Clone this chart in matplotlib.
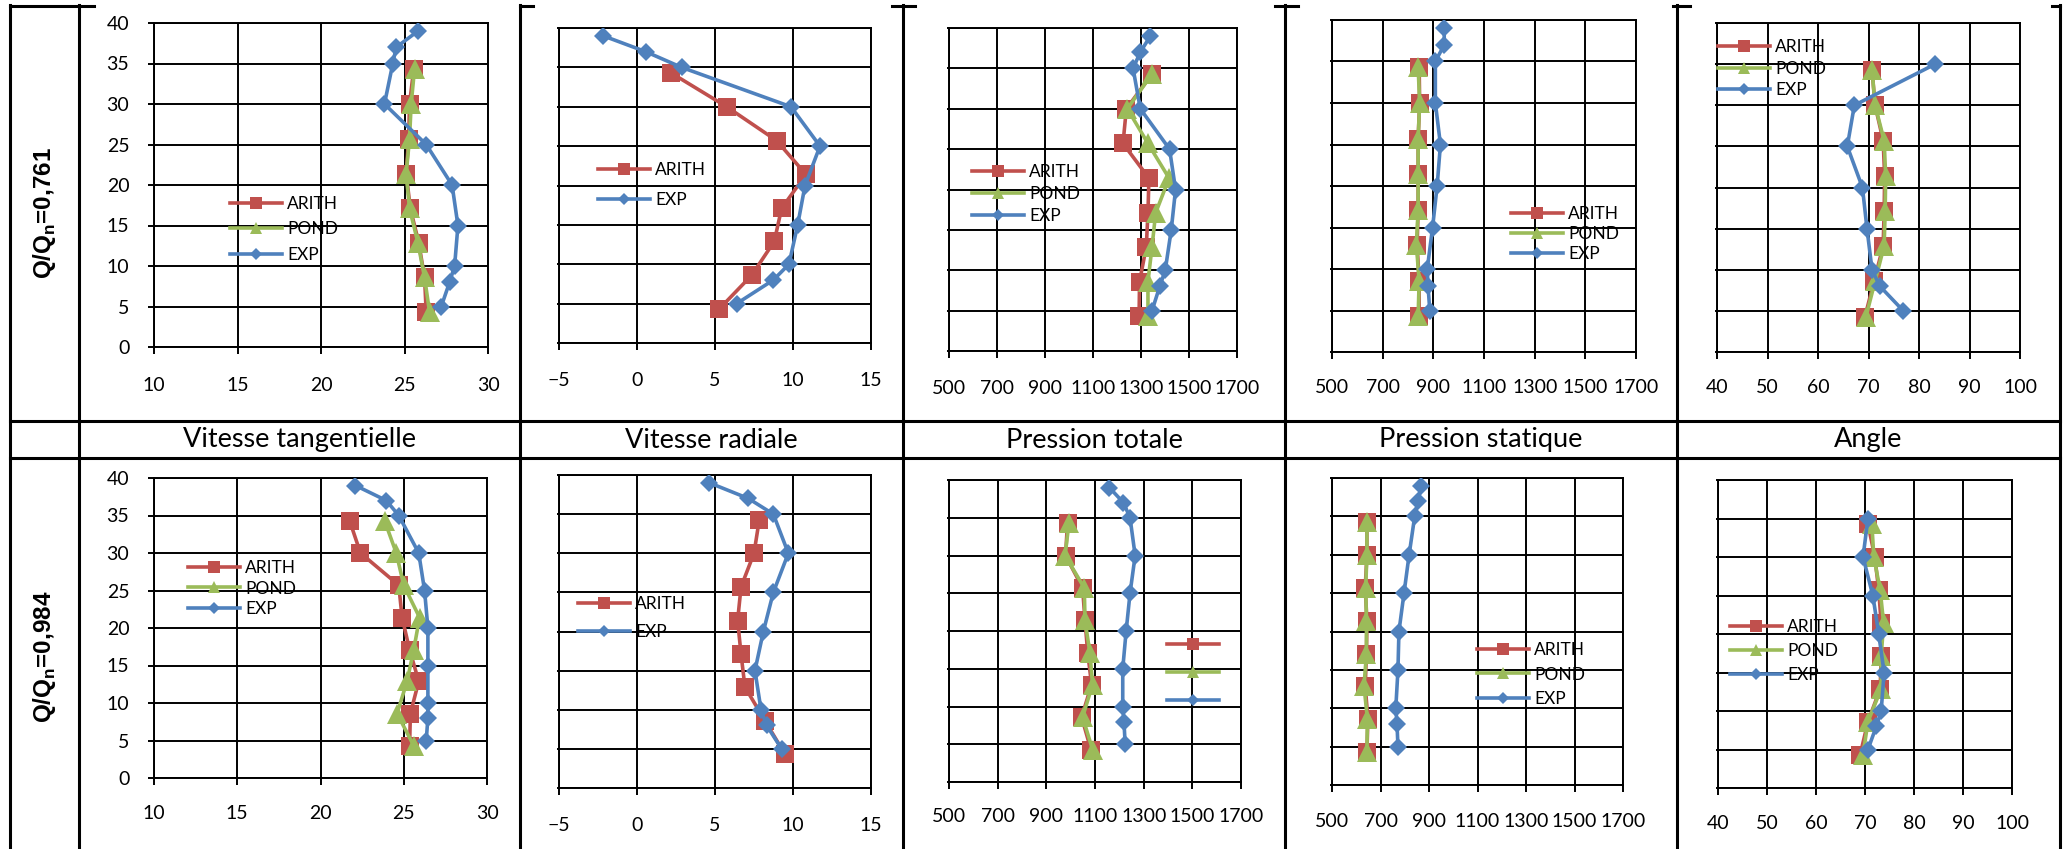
import matplotlib
matplotlib.use("Agg")
import matplotlib.pyplot as plt
from matplotlib.lines import Line2D

plt.rcParams['font.family'] = ['Lato', 'DejaVu Sans']
plt.rcParams['mathtext.fontset'] = 'custom'
plt.rcParams['mathtext.rm'] = 'Liberation Sans:bold'

W, H = 2068, 849

# heights of the measurement points
Y_MODEL = [4.3, 8.6, 12.9, 17.1, 21.4, 25.7, 30.0, 34.3]
Y_EXP = [5, 8, 10, 15, 20, 25, 30, 35, 37, 39]
Y_EXP_ANGLE = [5, 8, 10, 15, 20, 25, 30, 35]

ROW_LABELS = ["0,761", "0,984"]
COL_TITLES = ["Vitesse tangentielle", "Vitesse radiale", "Pression totale",
              "Pression statique", "Angle"]

# Q/Qn = 0,761
TANG1_ARITH = [26.3, 26.2, 25.85, 25.35, 25.1, 25.25, 25.3, 25.55]
TANG1_POND = [26.5, 26.2, 25.8, 25.3, 25.1, 25.3, 25.4, 25.6]
TANG1_EXP = [27.2, 27.7, 28.0, 28.2, 27.85, 26.3, 23.8, 24.3, 24.5, 25.8]
RAD1_ARITH = [5.26, 7.35, 8.8, 9.27, 10.83, 8.95, 5.75, 2.18]
RAD1_EXP = [6.39, 8.74, 9.74, 10.3, 10.77, 11.73, 9.87, 2.86, 0.55, -2.16]
PT1_ARITH = [1292, 1294, 1322, 1329, 1333, 1225, 1239, 1346]
PT1_POND = [1329, 1329, 1346, 1361, 1417, 1329, 1243, 1346]
PT1_EXP = [1346, 1378, 1401, 1426, 1444, 1419, 1297, 1267, 1297, 1339]
PS1_ARITH = [844, 844, 836, 840, 840, 840, 846, 844]
PS1_POND = [840, 844, 833, 840, 840, 840, 846, 840]
PS1_EXP = [886, 879, 876, 897, 915, 928, 908, 908, 943, 943]
ANG1_ARITH = [69.3, 71.1, 72.9, 73.1, 73.2, 72.9, 71.3, 70.7]
ANG1_POND = [69.5, 71.3, 73.1, 73.3, 73.4, 73.1, 71.3, 70.7]
ANG1_EXP = [76.9, 72.25, 70.7, 69.7, 68.8, 65.8, 67.2, 83.2]

# Q/Qn = 0,984
TANG2_ARITH = [25.35, 25.4, 25.9, 25.35, 24.9, 24.7, 22.4, 21.75]
TANG2_POND = [25.6, 24.6, 25.2, 25.6, 25.95, 25.0, 24.55, 23.85]
TANG2_EXP = [26.35, 26.45, 26.45, 26.45, 26.45, 26.25, 25.9, 24.7, 23.95, 22.1]
RAD2_ARITH = [9.49, 8.2, 6.92, 6.67, 6.45, 6.67, 7.5, 7.84]
RAD2_EXP = [9.27, 8.31, 7.95, 7.56, 8.1, 8.74, 9.7, 8.74, 7.14, 4.64]
PT2_ARITH = [1083, 1045, 1086, 1070, 1059, 1049, 979, 987]
PT2_POND = [1090, 1049, 1090, 1079, 1059, 1056, 977, 993]
PT2_EXP = [1224, 1219, 1214, 1214, 1228, 1244, 1265, 1244, 1217, 1159]
PS2_ARITH = [644, 648, 637, 642, 644, 637, 644, 644]
PS2_POND = [644, 646, 632, 642, 642, 639, 644, 644]
PS2_EXP = [772, 768, 763, 772, 776, 797, 818, 841, 855, 868]
ANG2_ARITH = [69.0, 70.6, 73.1, 73.3, 73.3, 72.8, 72.0, 70.6]
ANG2_POND = [69.6, 70.6, 73.3, 73.3, 73.8, 73.1, 71.8, 71.4]
ANG2_EXP = [70.6, 72.3, 73.3, 73.9, 72.8, 71.6, 69.6, 70.6]

X_TICKS = [list(range(10, 31, 5)), list(range(-5, 16, 5)),
           list(range(500, 1701, 200)), list(range(500, 1701, 200)),
           list(range(40, 101, 10))]

RED, GREEN, BLUE = '#C0504D', '#9BBB59', '#4F81BD'

# (arith, pond, exp, exp heights) for each cell
DATA = [
    [(TANG1_ARITH, TANG1_POND, TANG1_EXP, Y_EXP),
     (RAD1_ARITH, None, RAD1_EXP, Y_EXP),
     (PT1_ARITH, PT1_POND, PT1_EXP, Y_EXP),
     (PS1_ARITH, PS1_POND, PS1_EXP, Y_EXP),
     (ANG1_ARITH, ANG1_POND, ANG1_EXP, Y_EXP_ANGLE)],
    [(TANG2_ARITH, TANG2_POND, TANG2_EXP, Y_EXP),
     (RAD2_ARITH, None, RAD2_EXP, Y_EXP),
     (PT2_ARITH, PT2_POND, PT2_EXP, Y_EXP),
     (PS2_ARITH, PS2_POND, PS2_EXP, Y_EXP),
     (ANG2_ARITH, ANG2_POND, ANG2_EXP, Y_EXP_ANGLE)],
]

# layout in pixels: plot box (x0, x1, ytop, ybottom), tick label offset,
# legend (x of handle start, y of legend centre, spacing between entries)
BOXES = [
    [(154, 488, 23, 347), (559, 871, 28, 343), (949, 1237, 28, 351),
     (1332, 1636, 20, 352), (1717, 2020, 23, 352)],
    [(154, 487, 478, 778), (559, 871, 475, 788), (949, 1241, 480, 782),
     (1332, 1623, 478, 785), (1718, 2012, 480, 788)],
]
XLAB_OFF = [[40, 39, 39, 37, 37], [37, 39, 36, 38, 37]]
LEGENDS = [
    [(230, 229.5, 30.5), (598, 185, 34), (972, 194, 27), (1511, 234, 25), (1718, 68.7, 26.5)],
    [(188, 588.5, 25.5), (578, 618, 32), (1167, 673, 33), (1477, 674.5, 29.5), (1730, 651, 29)],
]

fig = plt.figure(figsize=(W / 100, H / 100), dpi=100)


def fx(x):
    return x / W


def fy(y):
    return 1 - y / H


def hline(y, x0, x1):
    fig.add_artist(Line2D([fx(x0), fx(x1)], [fy(y), fy(y)], color='black', lw=2.2,
                          transform=fig.transFigure))


def vline(x, y0, y1):
    fig.add_artist(Line2D([fx(x), fx(x)], [fy(y0), fy(y1)], color='black', lw=2.2,
                          transform=fig.transFigure))


# table frame
col_x = [10, 79, 520, 903, 1285, 1677, 2060]
for x in col_x:
    vline(x, 5, H)
hline(421, 10, 2060)
hline(458, 10, 2060)
for a, b in [(10, 94), (520, 533), (892, 915), (1275, 1298), (1673, 1690), (2052, 2060)]:
    hline(6, a, b)

for j, title in enumerate(COL_TITLES):
    fig.text(fx((col_x[j + 1] + col_x[j + 2]) / 2), fy(440), title,
             ha='center', va='center', fontsize=19.5)

for i, (lab, yc) in enumerate(zip(ROW_LABELS, [213, 657])):
    fig.text(fx(45), fy(yc), r'Q/Q$_\mathrm{n}$=' + lab, rotation=90, ha='center',
             va='center', fontsize=17.5, fontweight='bold', family='Liberation Sans')

fs_leg = 12.5
for i in range(2):
    for j in range(5):
        x0, x1, y0, y1 = BOXES[i][j]
        ax = fig.add_axes([fx(x0), fy(y1), (x1 - x0) / W, (y1 - y0) / H])
        arith, pond, exp, yexp = DATA[i][j]
        ax.plot(arith, Y_MODEL, color=RED, lw=2.6, marker='s', ms=13.5, mew=0, zorder=3)
        handles = [Line2D([], [], color=RED, lw=2.6, marker='s', ms=8.5, mew=0)]
        labels = ['ARITH']
        if pond is not None:
            ax.plot(pond, Y_MODEL, color=GREEN, lw=2.6, marker='^', ms=14, mew=0, zorder=4)
            handles.append(Line2D([], [], color=GREEN, lw=2.6, marker='^', ms=9, mew=0))
            labels.append('POND')
        ax.plot(exp, yexp, color=BLUE, lw=2.6, marker='D', ms=9.5, mew=0, zorder=5)
        handles.append(Line2D([], [], color=BLUE, lw=2.6, marker='D', ms=6.5, mew=0))
        labels.append('EXP')

        xt = X_TICKS[j]
        ax.set_xlim(xt[0], xt[-1])
        ax.set_ylim(0, 40)
        ax.set_xticks(xt)
        ax.set_yticks(range(0, 41, 5))
        ax.set_axisbelow(True)
        ax.grid(True, color='black', lw=1.4)
        for sp in ax.spines.values():
            sp.set_color('black')
            sp.set_linewidth(1.4)
        ax.tick_params(axis='x', direction='out', length=5, width=1.4,
                       pad=(XLAB_OFF[i][j] - 17) * 0.72, labelsize=14)
        if j == 0:
            ax.tick_params(axis='y', direction='out', length=4.3, width=1.4,
                           pad=13.5, labelsize=14)
        else:
            ax.tick_params(axis='y', length=1.5, width=1.4, labelleft=False)

        lx, ly, sp_px = LEGENDS[i][j]
        if i == 1 and j == 2:
            labels = [' '] * len(labels)
        fs_px = fs_leg / 0.72
        ax.legend(handles, labels, loc='center left', frameon=False, fontsize=fs_leg,
                  bbox_to_anchor=(fx(lx), fy(ly)), bbox_transform=fig.transFigure,
                  borderpad=0, borderaxespad=0, handlelength=3.0, handletextpad=0.3,
                  numpoints=1, labelspacing=max(0.05, (sp_px - 1.2 * fs_px) / fs_px))

fig.savefig('out.png', dpi=100)
